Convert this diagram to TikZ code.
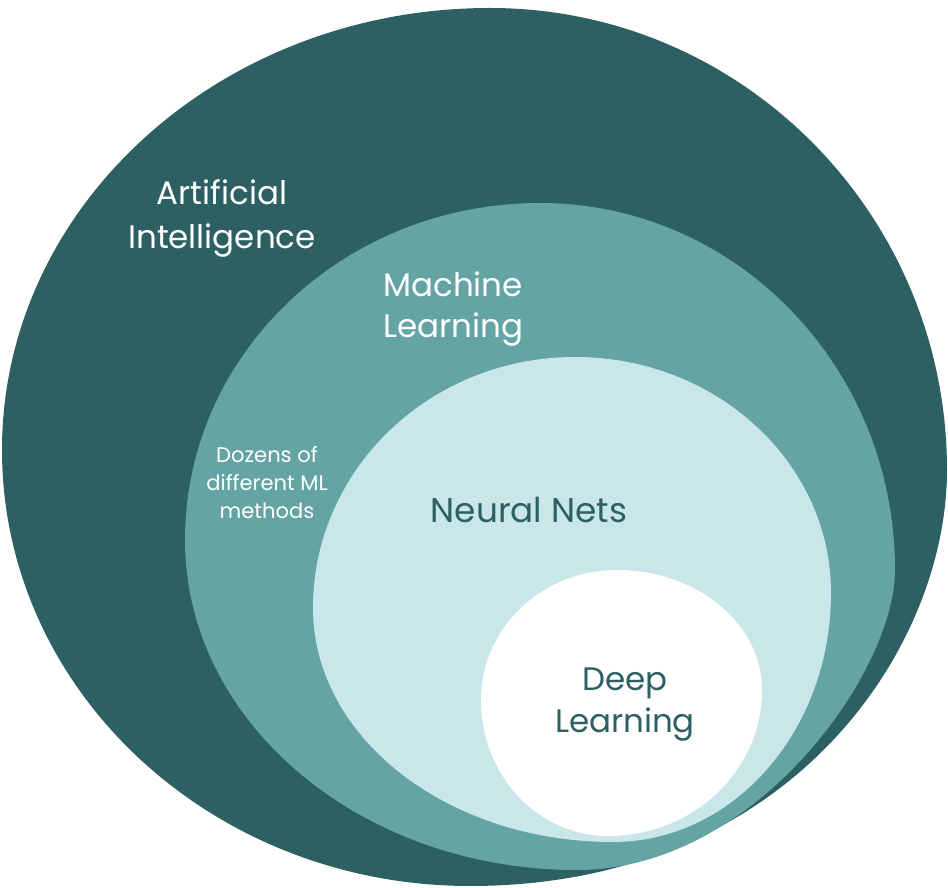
\documentclass[tikz,border=0pt]{standalone}
\usepackage{fontspec}
\setmainfont{Poppins}
\usepackage{tikz}
\usetikzlibrary{positioning}

\definecolor{aidark}{HTML}{2C6063}
\definecolor{mlmid}{HTML}{64A4A5}
\definecolor{nnlight}{HTML}{C9E7E8}

\def\lowkv{0.5523}
\def\lowkh{0.5523}
\newcommand{\fieldblob}[9]{%
  \fill[#1] (#2,#3) .. controls (#2,{#3+0.5523*(#5-#3)}) and ({#4+0.5523*(#2-#4)},#5) .. (#4,#5)
    .. controls ({#4+0.5523*(#6-#4)},#5) and (#6,{#7+0.5523*(#5-#7)}) .. (#6,#7)
    .. controls (#6,{#7+\lowkv*(#9-#7)}) and ({#8+\lowkh*(#6-#8)},#9) .. (#8,#9)
    .. controls ({#8+0.5523*(#2-#8)},#9) and (#2,{#3+0.5523*(#9-#3)}) .. cycle;}

\begin{document}
\begin{tikzpicture}[x=0.02cm,y=-0.02cm,
    biglabel/.style={inner sep=0pt,font=\fontsize{18.5}{25}\selectfont},
    smalllabel/.style={inner sep=0pt,font=\fontsize{12}{15.9}\selectfont}]
    \useasboundingbox (0,0) rectangle (948,888);
    \def\lowkv{0.43}\def\lowkh{0.67}
    \fieldblob{aidark}{2}{450}{490}{8}{947}{470}{470}{886}
    \def\lowkv{0.34}\def\lowkh{0.56}
    \fieldblob{mlmid}{185}{540}{540}{203}{895}{570}{577}{870}
    \def\lowkv{0.5523}\def\lowkh{0.5523}
    \fieldblob{nnlight}{313}{608}{575}{357}{831}{593}{613}{842}
    \fieldblob{white}{481}{700}{617}{570}{762}{690}{608}{836}
    \node[biglabel, white, align=center, anchor=north] (ai) at (222,179) {Artificial\\Intelligence};
    \node[biglabel, white, align=left, anchor=north west, font=\fontsize{18.5}{23.8}\selectfont] (ml) at (383,271) {Machine\\Learning};
    \node[smalllabel, white, align=center, anchor=north] (dozens) at (267,446) {Dozens of\\different ML\\methods};
    \node[biglabel, aidark, anchor=north, font=\fontsize{19.5}{25}\selectfont] (nn) at (529,497) {Neural Nets};
    \node[biglabel, aidark, align=center, anchor=north, font=\fontsize{18.5}{24.4}\selectfont] (dl) at (625,667) {Deep\\Learning};
\end{tikzpicture}
\end{document}
